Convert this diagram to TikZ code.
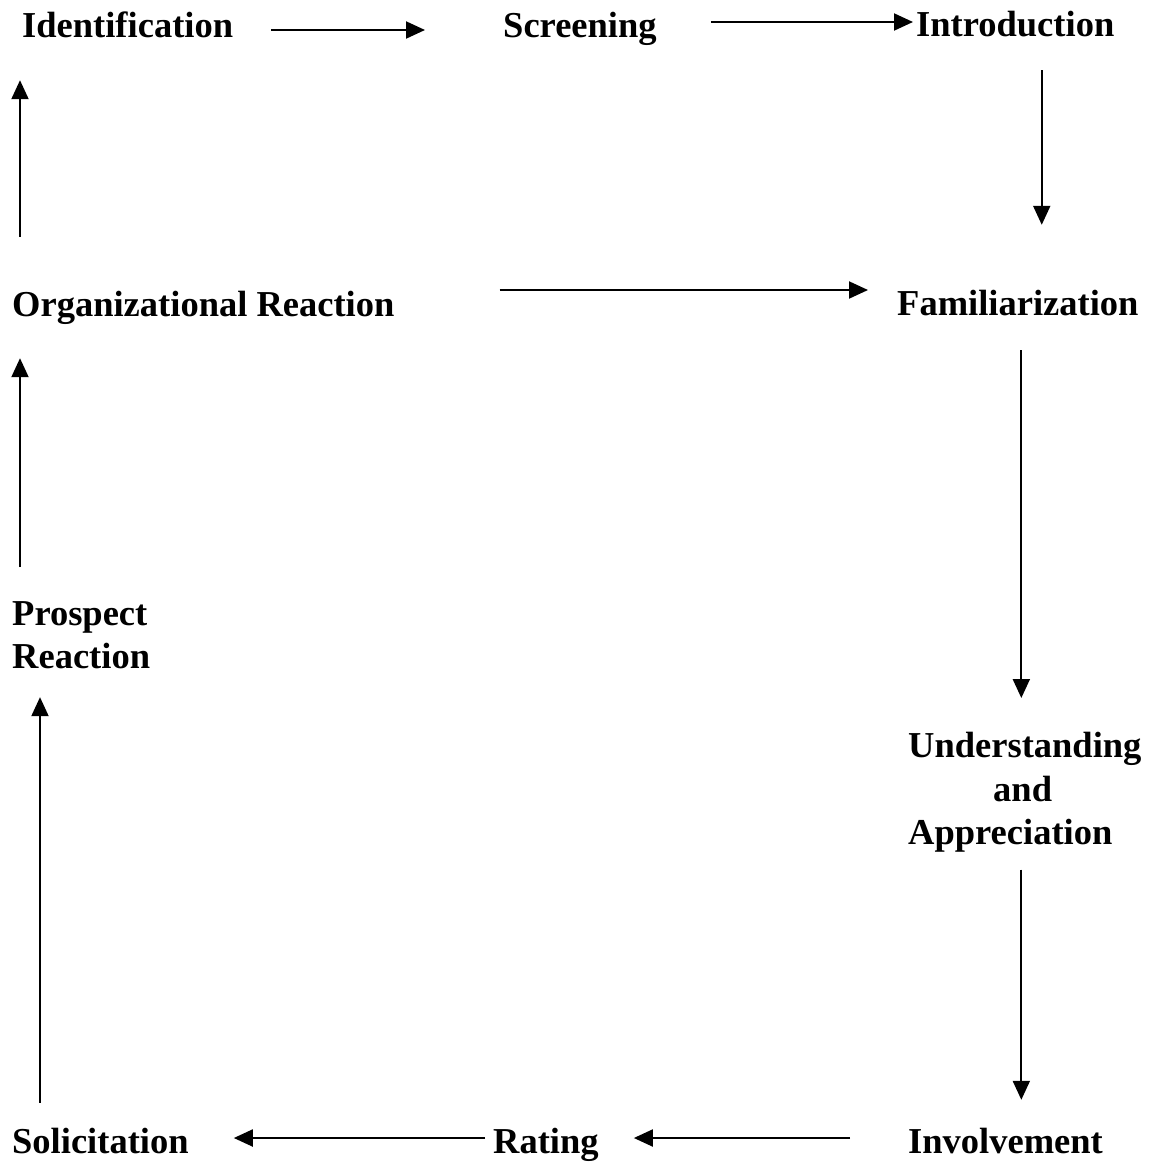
\documentclass[tikz,border=0pt]{standalone}
\usepackage{fontspec}
\setmainfont{Liberation Serif}
\usetikzlibrary{arrows.meta}
\begin{document}
\begin{tikzpicture}[x=1pt,y=-1pt,
  lbl/.style={font=\fontsize{36.5}{44}\selectfont\bfseries, inner sep=0pt, text height=26pt, text depth=8pt, anchor=base west},
  mlbl/.style={font=\fontsize{36.5}{43.5}\selectfont\bfseries, inner sep=0pt, anchor=north west},
  arr/.style={line width=2pt, -{Triangle[length=19pt,width=17pt]}}]
\useasboundingbox[fill=white] (0,0) rectangle (1149,1162);

\node[lbl] (ident)  at (22,37)   {Identification};
\node[lbl] (screen) at (503,37)  {Screening};
\node[lbl] (intro)  at (916,36)  {Introduction};
\node[lbl] (org)    at (12,316)  {Organizational Reaction};
\node[lbl] (fam)    at (897,315) {Familiarization};
\node[mlbl, align=left] (pro) at (12,601) {Prospect\\Reaction};
\node[mlbl, align=left] (und) at (908,732) {Understanding\\\hspace*{85pt}and\\Appreciation};
\node[lbl] (inv)    at (908,1153) {Involvement};
\node[lbl] (rating) at (493,1153) {Rating};
\node[lbl] (sol)    at (12,1153)  {Solicitation};

\draw[arr, shorten <=38pt, shorten >=78pt] ([yshift=-2pt]ident.east) -- ([yshift=-2pt]ident.east -| screen.west);
\draw[arr, shorten <=54pt, shorten >=3pt] ([yshift=6pt]screen.east) -- ([yshift=6pt]screen.east -| intro.west);
\draw[arr, shorten <=26pt, shorten >=64pt] ([xshift=26.5pt]intro.south) -- ([xshift=26.5pt]intro.south |- fam.north);
\draw[arr, shorten <=105pt, shorten >=29pt] ([yshift=17pt]org.east) -- ([yshift=17pt]org.east -| fam.west);
\draw[arr, shorten <=27pt, shorten >=34pt] ([xshift=3.5pt]fam.south) -- ([xshift=3.5pt]fam.south |- und.north);
\draw[arr, shorten <=17pt, shorten >=27pt] ([xshift=-3.5pt]und.south) -- ([xshift=-3.5pt]und.south |- inv.north);
\draw[arr, shorten <=58pt, shorten >=35pt] ([yshift=6pt]inv.west) -- ([yshift=6pt]inv.west -| rating.east);
\draw[arr, shorten <=8pt, shorten >=45pt] ([yshift=6pt]rating.west) -- ([yshift=6pt]rating.west -| sol.east);
\draw[arr, shorten <=24pt, shorten >=28pt] ([xshift=28pt]sol.north west) -- ([xshift=28pt]sol.north west |- pro.south);
\draw[arr, shorten <=34pt, shorten >=34pt] ([xshift=8pt]pro.north west) -- ([xshift=8pt]pro.north west |- org.south);
\draw[arr, shorten <=53pt, shorten >=35pt] ([xshift=8pt]org.north west) -- ([xshift=8pt]org.north west |- ident.south);
\end{tikzpicture}
\end{document}
